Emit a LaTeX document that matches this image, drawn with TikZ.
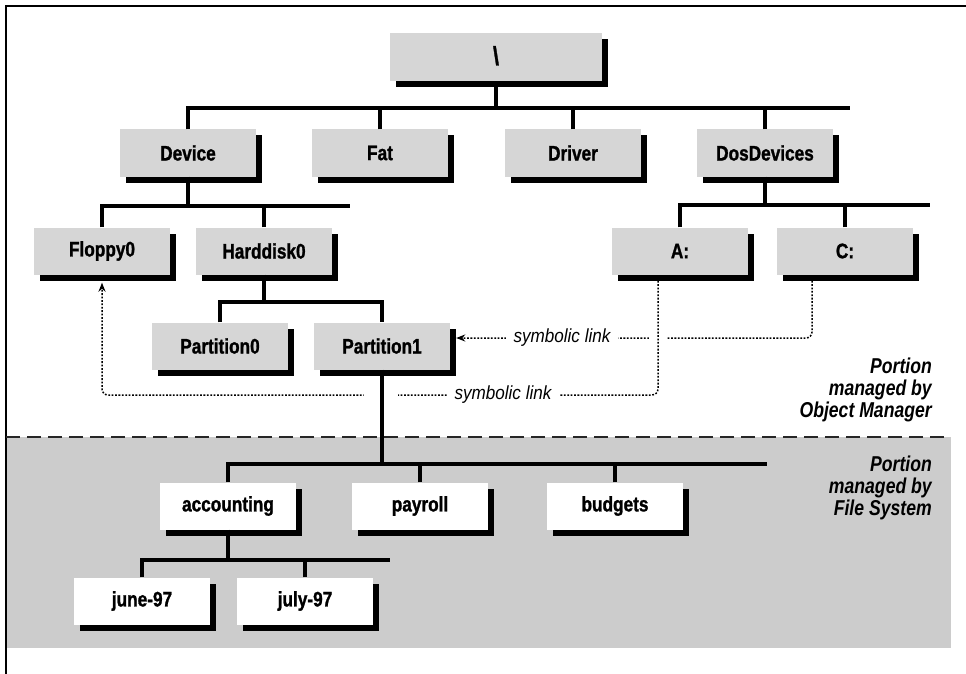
\documentclass[tikz,border=0pt]{standalone}
\usepackage{fontspec}
\newfontfamily\condfont{Liberation Sans}[FakeStretch=0.82, BoldFeatures={FakeBold=1.2}]
\newfontfamily\linkfont{Liberation Sans}[FakeStretch=0.9]
\usetikzlibrary{shadows,arrows.meta}
\begin{document}
\begin{tikzpicture}[x=1pt,y=-1pt,
  box/.style={fill=gray!32, minimum width=136pt, minimum height=47pt, inner sep=0pt,
    font=\condfont\bfseries\fontsize{21}{21}\selectfont,
    drop shadow={shadow xshift=6pt, shadow yshift=-6pt, fill=black, opacity=1}},
  fsbox/.style={box, fill=white},
  tree/.style={line width=4.5pt},
  link/.style={dash pattern=on 1.8pt off 1.6pt, line width=1.5pt, rounded corners=6pt},
  arr/.style={-{Stealth[length=9pt,width=7pt]}},
  linklabel/.style={fill=white, inner xsep=8pt, inner ysep=3pt,
    font=\linkfont\itshape\fontsize{19}{19}\selectfont},
  portion/.style={align=right, anchor=east, inner sep=0pt,
    font=\condfont\bfseries\itshape\fontsize{21.5}{22}\selectfont}
]
\useasboundingbox (0,0) rectangle (966,674);
% frame and regions
\fill[gray!40] (6,437) rectangle (951,648);
\draw[line width=2pt] (6,674) -- (6,6) -- (966,6);
\draw[line width=2pt, dash pattern=on 14pt off 7pt, black!85] (6,437) -- (951,437);

% nodes
\node[box, minimum width=212pt, minimum height=48pt] (root) at (496,57) {\raisebox{3pt}{\fontsize{26}{26}\selectfont\textbackslash}};
\node[box] (dev) at (188,153) {Device};
\node[box] (fat) at (380,153) {Fat};
\node[box] (drv) at (573,153) {Driver};
\node[box] (dos) at (765,153) {DosDevices};
\node[box] (flp) at (102,251) {Floppy0};
\node[box] (hd) at (264,251) {Harddisk0};
\node[box] (a) at (680,251) {A:};
\node[box] (c) at (845,251) {C:};
\node[box] (p0) at (220,346) {Partition0};
\node[box] (p1) at (382,346) {Partition1};
\node[fsbox] (acc) at (228,506) {accounting};
\node[fsbox] (pay) at (420,506) {payroll};
\node[fsbox] (bud) at (615,506) {budgets};
\node[fsbox] (jun) at (142,601) {june-97};
\node[fsbox] (jul) at (305,601) {july-97};

% symbolic links
\coordinate (l1) at (503,395);
\coordinate (l2) at (562,338);
\draw[link,arr] ([xshift=-33pt,yshift=-6pt]c.south) |- (l2) -- ([xshift=6pt,yshift=8pt]p1.east);
\fill[white] (649,331) rectangle (667,345);
\draw[link,arr] ([xshift=-22pt,yshift=-6pt]a.south) |- (l1) -| ([yshift=-8pt]flp.south);
\fill[white] (364,389) rectangle (398,401);
\node[linklabel] (sl1) at (l1) {symbolic link};
\node[linklabel] (sl2) at (l2) {symbolic link};

% tree
\coordinate (b1e) at (850,108);
\draw[tree] (root.south) -- (root.south |- b1e);
\draw[tree] (dev.north) -- (dev.north |- b1e) -- (b1e);
\draw[tree] (fat.north) -- (fat.north |- b1e);
\draw[tree] (drv.north) -- (drv.north |- b1e);
\draw[tree] (dos.north) -- (dos.north |- b1e);

\coordinate (b2e) at (350,206);
\draw[tree] (dev.south) -- (dev.south |- b2e);
\draw[tree] (flp.north) -- (flp.north |- b2e) -- (b2e);
\draw[tree] (hd.north) -- (hd.north |- b2e);

\coordinate (b3e) at (930,205);
\draw[tree] (dos.south) -- (dos.south |- b3e);
\draw[tree] (a.north) -- (a.north |- b3e) -- (b3e);
\draw[tree] (c.north) -- (c.north |- b3e);

\coordinate (b4e) at (382,302);
\draw[tree] (hd.south) -- (hd.south |- b4e);
\draw[tree] (p0.north) -- (p0.north |- b4e) -- (b4e) -- (p1.north);

\coordinate (b5e) at (767,464);
\draw[tree] (p1.south) -- (p1.south |- b5e);
\draw[tree] (acc.north) -- (acc.north |- b5e) -- (b5e);
\draw[tree] (pay.north) -- (pay.north |- b5e);
\draw[tree] (bud.north) -- (bud.north |- b5e);

\coordinate (b6e) at (390,560);
\draw[tree] (acc.south) -- (acc.south |- b6e);
\draw[tree] (jun.north) -- (jun.north |- b6e) -- (b6e);
\draw[tree] (jul.north) -- (jul.north |- b6e);

% portion labels
\node[portion] (om) at (932,390) {Portion\\managed by\\Object Manager};
\node[portion] (fs) at (932,488) {Portion\\managed by\\File System};
\end{tikzpicture}
\end{document}
